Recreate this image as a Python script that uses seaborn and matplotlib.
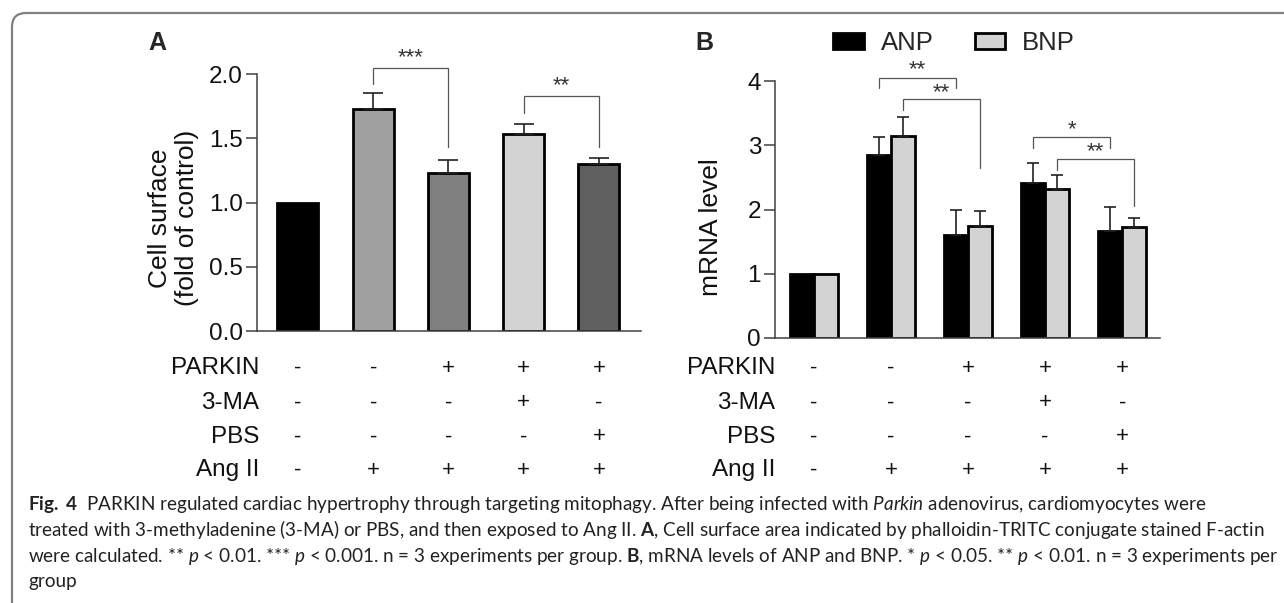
import numpy as np
import pandas as pd
import seaborn as sns
import matplotlib.pyplot as plt
import matplotlib.transforms as mtransforms
from matplotlib.patches import FancyBboxPatch

# panel A: cell surface, fold of control
groups = ['g1', 'g2', 'g3', 'g4', 'g5']
surface_mean = [1.00, 1.73, 1.23, 1.53, 1.30]
surface_err = [0.00, 0.12, 0.10, 0.08, 0.05]
surface_colors = ['#000000', '#a0a0a0', '#808080', '#d3d3d3', '#606060']

# panel B: mRNA level
genes = ['ANP', 'BNP']
anp_mean = [1.00, 2.85, 1.60, 2.42, 1.67]
anp_err = [0.00, 0.28, 0.39, 0.31, 0.37]
bnp_mean = [1.00, 3.15, 1.74, 2.32, 1.73]
bnp_err = [0.00, 0.29, 0.23, 0.22, 0.13]
gene_colors = {'ANP': '#000000', 'BNP': '#d3d3d3'}

# treatment table under both panels
row_names = ['PARKIN', '3-MA', 'PBS', 'Ang II']
row_signs = [['-', '-', '+', '+', '+'],
             ['-', '-', '-', '+', '-'],
             ['-', '-', '-', '-', '+'],
             ['-', '+', '+', '+', '+']]

# significance brackets: (left bar, right bar, top, left leg end, right leg end, label, label y)
sig_a = [(1, 2, 2.05, 1.92, 1.43, '***', 2.13),
         (3, 4, 1.83, 1.70, 1.43, '**', 1.91)]
# for B the bar is (group, gene)
sig_b = [((1, 'ANP'), (2, 'ANP'), 4.05, 3.89, 3.89, '**', 4.17),
         ((1, 'BNP'), (2, 'BNP'), 3.72, 3.55, 2.65, '**', 3.82),
         ((3, 'ANP'), (4, 'ANP'), 3.13, 2.96, 2.96, '*', 3.24),
         ((3, 'BNP'), (4, 'BNP'), 2.79, 2.62, 2.06, '**', 2.90)]

caption = [
    r"$\mathbf{Fig.\ 4}$  PARKIN regulated cardiac hypertrophy through targeting mitophagy. After being infected with $\mathit{Parkin}$ adenovirus, cardiomyocytes were",
    r"treated with 3-methyladenine (3-MA) or PBS, and then exposed to Ang II. $\mathbf{A}$, Cell surface area indicated by phalloidin-TRITC conjugate stained F-actin",
    r"were calculated. ** $p$ < 0.01. *** $p$ < 0.001. n = 3 experiments per group. $\mathbf{B}$, mRNA levels of ANP and BNP. * $p$ < 0.05. ** $p$ < 0.01. n = 3 experiments per",
    "group",
]

W, H = 1284, 603
sns.set_style('ticks')
plt.rcParams['font.family'] = ['Liberation Sans', 'DejaVu Sans']
plt.rcParams['mathtext.fontset'] = 'custom'
plt.rcParams['mathtext.rm'] = 'Lato'
plt.rcParams['mathtext.it'] = 'Lato:italic'
plt.rcParams['mathtext.bf'] = 'Lato:bold'

fig = plt.figure(figsize=(W / 100, H / 100), dpi=100)
fig.patch.set_facecolor('white')


def fx(x):
    return x / W


def fy(y):
    return 1 - y / H


axis_col = '#404040'


def style_axis(ax):
    sns.despine(ax=ax)
    for s in ['left', 'bottom']:
        ax.spines[s].set_color(axis_col)
        ax.spines[s].set_linewidth(1.1)
    ax.set_xticks([])
    ax.set_xlabel('')
    ax.tick_params(axis='y', length=8, width=1.1, color=axis_col, labelsize=17.5,
                   pad=2, labelcolor='#111111')


def bracket(ax, x0, x1, top, l0, l1, label, ty, fs=16):
    ax.plot([x0, x0, x1, x1], [l0, top, top, l1], color='#555555', lw=0.9,
            clip_on=False, solid_joinstyle='miter')
    ax.text((x0 + x1) / 2, ty, label, ha='center', va='center', fontsize=fs,
            color='#333333', clip_on=False)


def table(ax, label_x):
    tr = mtransforms.blended_transform_factory(ax.transData, fig.transFigure)
    tr_lab = mtransforms.blended_transform_factory(ax.transAxes, fig.transFigure)
    for r, ypix in enumerate([368, 403, 437, 470]):
        ax.text(label_x, fy(ypix), row_names[r], transform=tr_lab, ha='right',
                va='center', fontsize=17.5, color='#111111')
        for i, s in enumerate(row_signs[r]):
            ax.text(i, fy(ypix), s, transform=tr, ha='center', va='center',
                    fontsize=16, color='#111111')


# ---- panel A ----
axA = fig.add_axes([fx(257), fy(331), fx(641 - 257), (331 - 74) / H])
df_a = pd.DataFrame({'group': groups, 'value': surface_mean})
sns.barplot(data=df_a, x='group', y='value', hue='group', palette=surface_colors,
            width=0.545, edgecolor='black', linewidth=2.0, errorbar=None,
            legend=False, ax=axA)
xa = np.arange(len(groups))
ea = np.array(surface_err)
m = ea > 0
axA.errorbar(xa[m], np.array(surface_mean)[m], yerr=[np.zeros(m.sum()), ea[m]],
             fmt='none', ecolor='#222222', elinewidth=1.2, capsize=7, capthick=1.2)
axA.set_xlim(-0.545, 4.56)
axA.set_ylim(0, 2.0)
axA.set_yticks([0, 0.5, 1.0, 1.5, 2.0])
axA.set_yticklabels(['0.0', '0.5', '1.0', '1.5', '2.0'])
style_axis(axA)
axA.set_ylabel('Cell surface\n(fold of control)', fontsize=19, linespacing=1.2,
               color='#111111')
axA.yaxis.set_label_coords(-0.15, 0.44)
for x0, x1, top, l0, l1, lab, ty in sig_a:
    bracket(axA, x0, x1, top, l0, l1, lab, ty)
table(axA, 0.005)
fig.text(fx(148), fy(43), 'A', fontsize=18, fontweight='bold', va='center')

# ---- panel B ----
axB = fig.add_axes([fx(775), fy(338), fx(1160 - 775), (338 - 81) / H])
df_b = pd.DataFrame({
    'group': groups * 2,
    'gene': ['ANP'] * 5 + ['BNP'] * 5,
    'value': anp_mean + bnp_mean,
})
wb = 0.62
sns.barplot(data=df_b, x='group', y='value', hue='gene', hue_order=genes,
            palette=gene_colors, width=wb, edgecolor='black', linewidth=2.0,
            errorbar=None, ax=axB)
off = {'ANP': -wb / 4, 'BNP': wb / 4}
for g, mean, err in [('ANP', anp_mean, anp_err), ('BNP', bnp_mean, bnp_err)]:
    e = np.array(err)
    m = e > 0
    axB.errorbar((xa + off[g])[m], np.array(mean)[m], yerr=[np.zeros(m.sum()), e[m]],
                 fmt='none', ecolor='#222222', elinewidth=1.2, capsize=4.5, capthick=1.2)
axB.set_xlim(-0.506, 4.49)
axB.set_ylim(0, 4)
axB.set_yticks([0, 1, 2, 3, 4])
style_axis(axB)
axB.set_ylabel('mRNA level', fontsize=19, color='#111111')
axB.yaxis.set_label_coords(-0.135, 0.43)
for (g0, h0), (g1, h1), top, l0, l1, lab, ty in sig_b:
    bracket(axB, g0 + off[h0], g1 + off[h1], top, l0, l1, lab, ty)
table(axB, 0.0)
sns.move_legend(axB, 'center left', bbox_to_anchor=(fx(833), fy(43)),
                bbox_transform=fig.transFigure, ncol=2, frameon=False, title=None,
                fontsize=18.5, handlelength=1.2, handleheight=0.6,
                handletextpad=0.65, columnspacing=1.6, borderpad=0, borderaxespad=0)
fig.text(fx(695), fy(43), 'B', fontsize=18, fontweight='bold', va='center')

# ---- caption ----
cap_texts = []
for line, base in zip(caption, [510, 536, 562, 587]):
    t = fig.text(fx(28), fy(base), line, fontsize=11, va='baseline', ha='left',
                 family=['Lato', 'DejaVu Sans'], color='#222222')
    cap_texts.append(t)
fig.canvas.draw()
r = fig.canvas.get_renderer()
widest = max(t.get_window_extent(r).width for t in cap_texts)
size = 11 * (1250 / widest)
for t in cap_texts:
    t.set_fontsize(size)

# frame round the figure
frame = FancyBboxPatch((12, -20), W + 40, H - 13 + 20,
                       boxstyle='round,pad=0,rounding_size=14',
                       transform=mtransforms.IdentityTransform(),
                       fill=False, edgecolor='#808080', lw=1.6)
fig.add_artist(frame)

fig.savefig('out.png', dpi=100)
